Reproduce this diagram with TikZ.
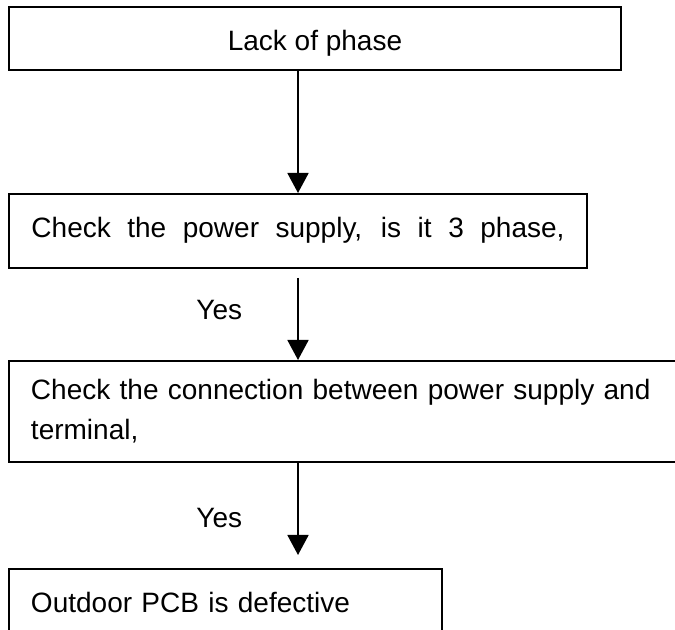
\documentclass[tikz,border=0pt]{standalone}
\usepackage{tikz}
\usetikzlibrary{arrows.meta}
\usepackage{fontspec}
\setmainfont{Liberation Sans}
\tikzset{
	flowbox/.style={draw,line width=1pt,anchor=north west,inner xsep=11pt,inner ysep=0pt,font=\fontsize{14}{20}\selectfont},
	yes/.style={inner sep=0pt,font=\fontsize{14}{20}\selectfont}
}

\begin{document}
\begin{tikzpicture}[x=0.5pt,y=-0.5pt]
	\useasboundingbox (0,0) rectangle (675,630);
	\node[flowbox,minimum width=306pt,minimum height=31.5pt,text height=12.5pt,text depth=0pt] (lack) at (8,6) {Lack of phase};
	\node[flowbox,minimum width=289pt,minimum height=37pt,text height=10pt,text depth=3pt] (supply) at (8,193) {\makebox[266.5pt][s]{Check the power supply, is it 3 phase,}};
	\node[flowbox,minimum width=336pt,minimum height=50.5pt,text width=314pt,align=left] (conn) at (8,360) {\makebox[314pt][s]{Check the connection between power supply and}\\terminal,};
	\node[flowbox,minimum width=216.5pt,minimum height=35pt,text width=194.5pt,align=left,text height=10pt,text depth=2pt] (pcb) at (8,568) {Outdoor PCB is defective};
	\path[-{Triangle[width=10.5pt,length=10pt]},line width=0.9pt]
	(lack.south -| supply.north) edge (supply.north)
	(supply.south) edge[shorten <=4.5pt] node[yes,left=27.5pt,pos=0.45] {Yes} (supply.south |- conn.north)
	(conn.south -| supply.south) edge[shorten >=6.5pt] node[yes,left=27.5pt,pos=0.52] {Yes} (pcb.north -| supply.south);
\end{tikzpicture}
\end{document}
